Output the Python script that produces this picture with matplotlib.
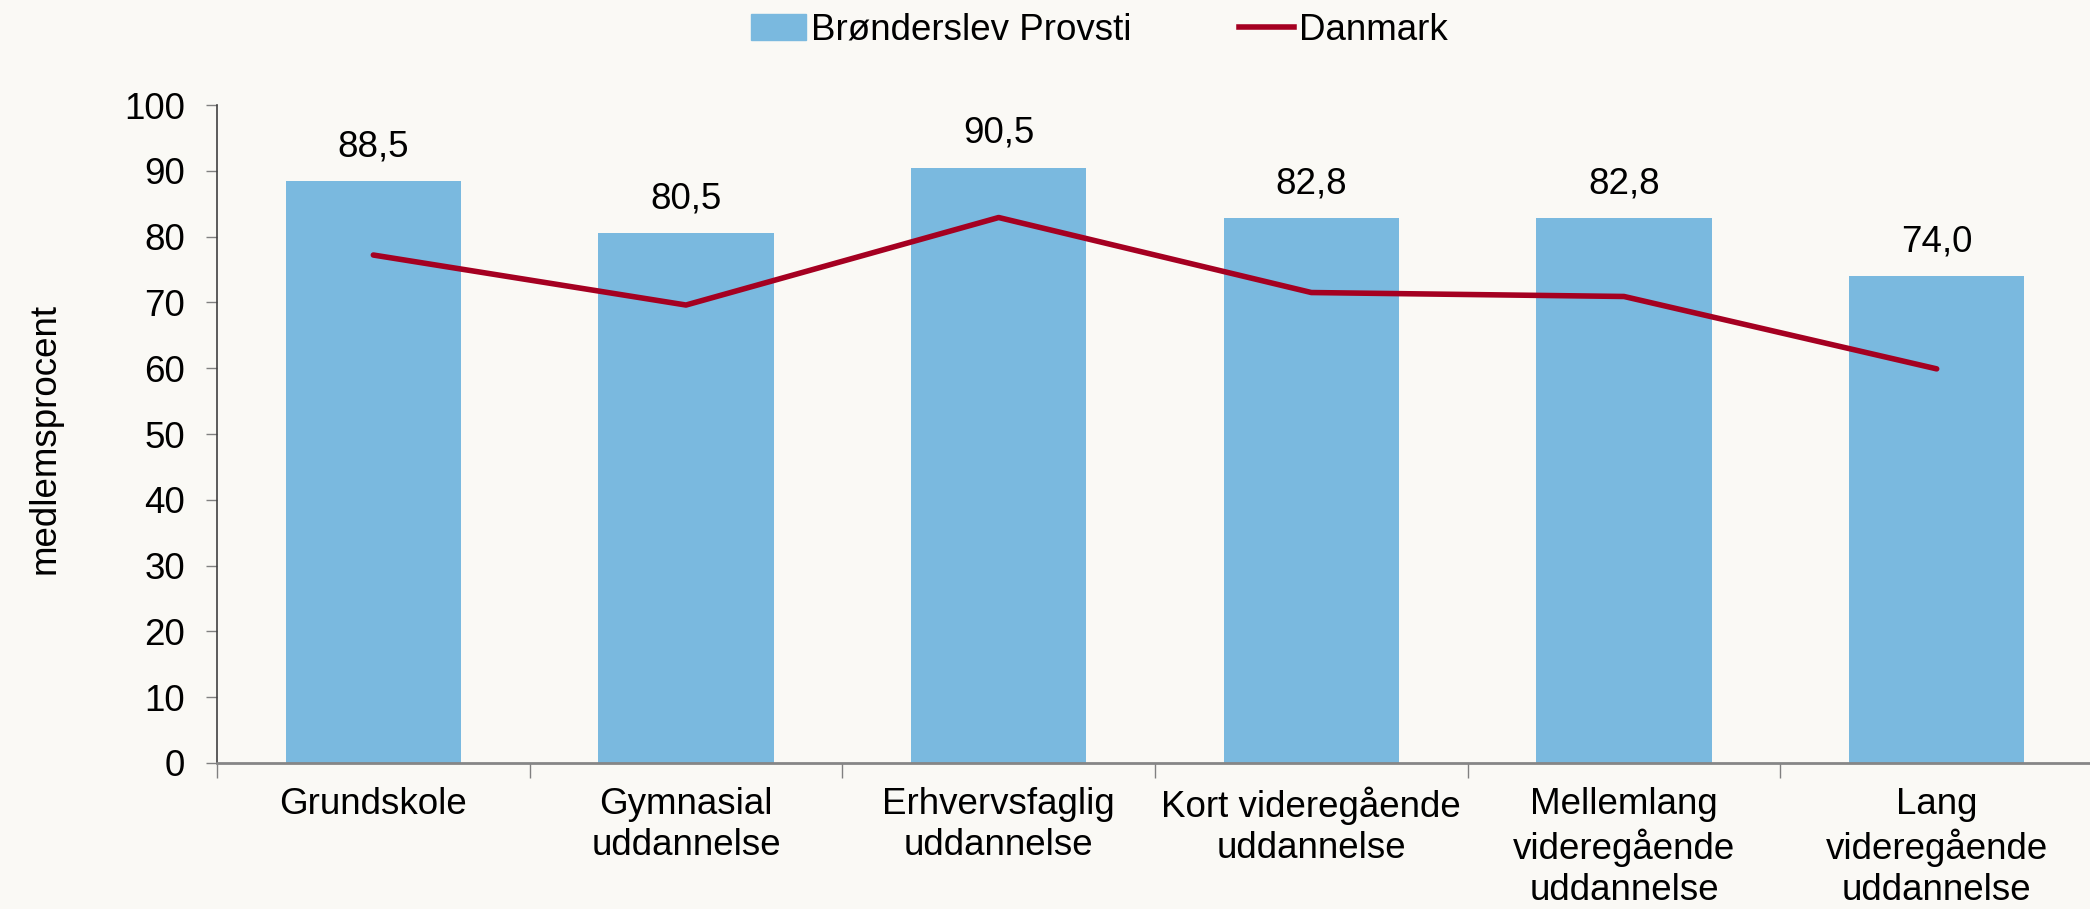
import numpy as np
import matplotlib.pyplot as plt
from matplotlib.patches import Patch
from matplotlib.lines import Line2D

plt.rcParams['font.family'] = ['Liberation Sans', 'DejaVu Sans']

categories = ["Grundskole", "Gymnasial\nuddannelse", "Erhvervsfaglig\nuddannelse",
              "Kort videregående\nuddannelse", "Mellemlang\nvideregående\nuddannelse",
              "Lang\nvideregående\nuddannelse"]
provsti = [88.5, 80.5, 90.5, 82.8, 82.8, 74.0]
danmark = [77.2, 69.6, 82.9, 71.5, 70.9, 59.9]
yticks = np.arange(0, 101, 10)

bg = "#FAF9F5"
bar_col = "#7AB9DF"
line_col = "#A50021"
fs = 26.5

fig = plt.figure(figsize=(20.9, 9.09), dpi=100, facecolor=bg)
ax = fig.add_axes([217/2090, 1-763/909, 1876/2090, (763-105)/909], facecolor=bg)

x = np.arange(len(categories))
ax.bar(x, provsti, width=0.56, color=bar_col, zorder=2)
ax.plot(x, danmark, color=line_col, lw=4, zorder=3, solid_capstyle='round')

for xi, v in zip(x, provsti):
    ax.annotate(f"{v:.1f}".replace(".", ","), (xi, v), xytext=(0, 12),
                textcoords="offset points", ha="center", va="bottom", fontsize=fs)

ax.set_xlim(-0.5, 5.5)
ax.set_ylim(0, 100)
ax.set_yticks(yticks)
ax.tick_params(axis='y', labelsize=fs, length=8, width=1, color="#808080", pad=15)

ax.set_xticks(np.arange(-0.5, 5.0, 1.0))
ax.set_xticklabels([])
ax.tick_params(axis='x', which='major', length=11, width=1, color="#808080")
ax.set_xticks(x, minor=True)
ax.set_xticklabels(categories, minor=True, fontsize=fs, linespacing=1.22)
ax.tick_params(axis='x', which='minor', length=0, pad=17)

for s in ["top", "right"]:
    ax.spines[s].set_visible(False)
ax.spines["left"].set_color("#404040")
ax.spines["left"].set_linewidth(1.2)
ax.spines["bottom"].set_color("#868686")
ax.spines["bottom"].set_linewidth(2)

fig.text(45/2090, 1-438/909, "medlemsprocent", rotation=90, ha="center", va="center", fontsize=fs)

handles = [Patch(color=bar_col), Line2D([0], [0], color=line_col, lw=4)]
fig.legend(handles, ["Brønderslev Provsti", "Danmark"], loc="upper center",
           bbox_to_anchor=(0.526, 0.994), ncol=2, frameon=False, fontsize=fs,
           borderaxespad=0.1, borderpad=0.1,
           handlelength=1.5, handletextpad=0.15, columnspacing=2.9)

fig.savefig("out.png", dpi=100, facecolor=bg)
